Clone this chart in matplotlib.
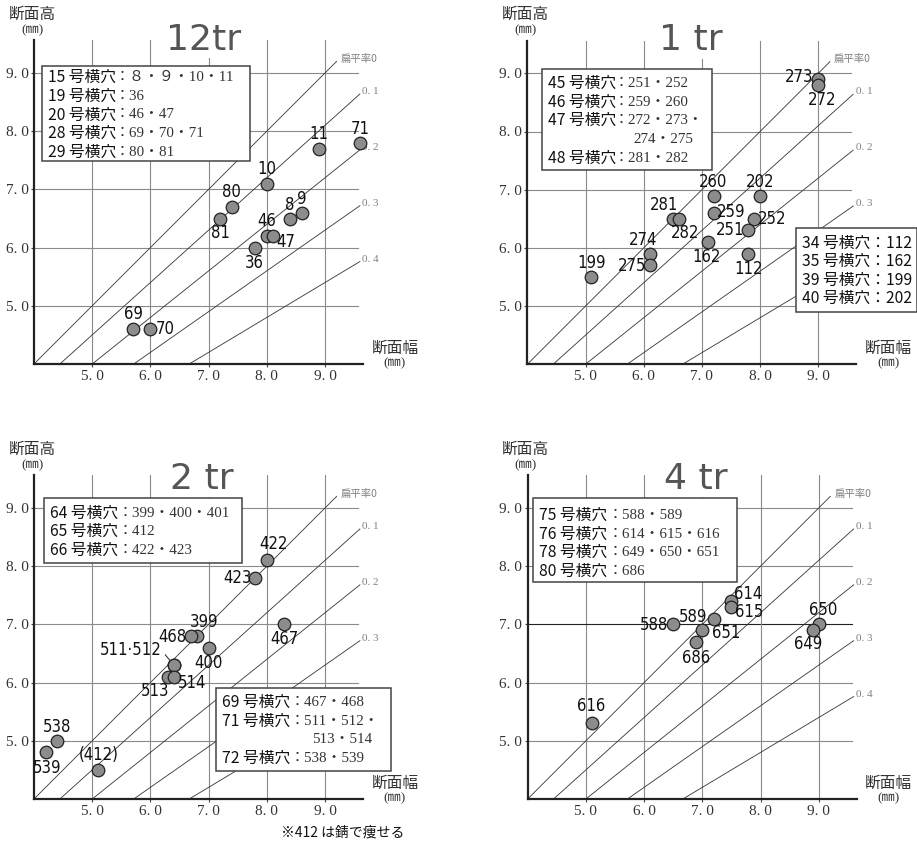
import matplotlib
matplotlib.use("Agg")
import matplotlib.pyplot as plt
from matplotlib.patches import Rectangle

W, H, DPI = 917, 843, 100

# ---------------- data ----------------
ticks = [5.0, 6.0, 7.0, 8.0, 9.0]
tick_labels = ["5. 0", "6. 0", "7. 0", "8. 0", "9. 0"]
rates = [0.0, 0.1, 0.2, 0.3, 0.4]
rate_labels = ["扁平率0", "0. 1", "0. 2", "0. 3", "0. 4"]

titles = ["12tr", "1 tr", "2 tr", "4 tr"]

p12_ids = ["8", "9", "10", "11", "36", "46", "47", "69", "70", "71", "80", "81"]
p12_w = [8.4, 8.6, 8.0, 8.9, 7.8, 8.0, 8.1, 5.7, 6.0, 9.6, 7.4, 7.2]
p12_h = [6.5, 6.6, 7.1, 7.7, 6.0, 6.2, 6.2, 4.6, 4.6, 7.8, 6.7, 6.5]

p1_ids = ["273", "272", "260", "202", "281", "282", "259", "252", "251", "162", "112", "274", "275", "199"]
p1_w = [9.0, 9.0, 7.2, 8.0, 6.5, 6.6, 7.2, 7.9, 7.8, 7.1, 7.8, 6.1, 6.1, 5.1]
p1_h = [8.9, 8.8, 6.9, 6.9, 6.5, 6.5, 6.6, 6.5, 6.3, 6.1, 5.9, 5.9, 5.7, 5.5]

p2_ids = ["422", "423", "399", "468", "400", "467", "511", "512", "513", "514", "538", "539", "412"]
p2_w = [8.0, 7.8, 6.8, 6.7, 7.0, 8.3, 6.4, 6.4, 6.3, 6.4, 4.4, 4.2, 5.1]
p2_h = [8.1, 7.8, 6.8, 6.8, 6.6, 7.0, 6.3, 6.3, 6.1, 6.1, 5.0, 4.8, 4.5]

p4_ids = ["614", "615", "589", "588", "651", "686", "650", "649", "616"]
p4_w = [7.5, 7.5, 7.2, 6.5, 7.0, 6.9, 9.0, 8.9, 5.1]
p4_h = [7.4, 7.3, 7.1, 7.0, 6.9, 6.7, 7.0, 6.9, 5.3]

leg12 = [("15 号横穴", "：８・９・10・11"), ("19 号横穴", "：36"), ("20 号横穴", "：46・47"),
         ("28 号横穴", "：69・70・71"), ("29 号横穴", "：80・81")]
leg1a = [("45 号横穴", "：251・252"), ("46 号横穴", "：259・260"), ("47 号横穴", "：272・273・"),
         ("", "274・275"), ("48 号横穴", "：281・282")]
leg1b = ["34 号横穴：112", "35 号横穴：162", "39 号横穴：199", "40 号横穴：202"]
leg2a = [("64 号横穴", "：399・400・401"), ("65 号横穴", "：412"), ("66 号横穴", "：422・423")]
leg2b = [("69 号横穴", "：467・468"), ("71 号横穴", "：511・512・"), ("", "513・514"),
         ("72 号横穴", "：538・539")]
leg4 = [("75 号横穴", "：588・589"), ("76 号横穴", "：614・615・616"),
        ("78 号横穴", "：649・650・651"), ("80 号横穴", "：686")]
footnote = "※412 は錆で痩せる"

# ---------------- layout (pixels) ----------------
U = 58.2
X0, X1, Y0, Y1 = 4.0, 9.65, 4.0, 9.56
origins = [(34, 364), (527.3, 364.3), (34, 799), (527.7, 799)]
title_off = [(170, -324), (164, -324), (168, -320), (168, -320)]

# label offsets (pixels, y up)
off12 = {"71": (0, 14), "11": (0, 15), "10": (0, 15), "80": (0, 15), "81": (0, -14), "8": (0, 14),
         "9": (0, 14), "46": (0, 15), "47": (13, -6), "36": (-1, -15), "69": (0, 15), "70": (15, 0)}
off1 = {"273": (-19, 2), "272": (4, -15), "260": (0, 14), "202": (0, 14), "281": (-9, 14),
        "282": (6, -14), "259": (18, 1), "252": (18, 0), "251": (-18, 0), "162": (-1, -15),
        "112": (0, -15), "274": (-6, 14), "275": (-17, -1), "199": (0, 14)}
off2 = {"422": (7, 16), "423": (-18, 0), "399": (7, 14), "468": (-19, -1), "400": (0, -15),
        "467": (0, -15), "513": (-13, -14), "514": (18, -6), "538": (0, 14), "539": (1, -16),
        "412": (1, 15)}
off4 = {"614": (17, 7), "615": (18, -5), "589": (-21, 2), "588": (-19, -1), "651": (24, -3),
        "686": (0, -16), "650": (4, 14), "649": (-5, -14), "616": (-1, 17)}

SERIF = ["Liberation Serif", "Noto Sans CJK JP"]
JP = ["Noto Sans CJK JP", "DejaVu Sans"]
NARROW = ["DejaVu Sans Condensed", "Liberation Sans Narrow", "DejaVu Sans"]

fig = plt.figure(figsize=(W / DPI, H / DPI), dpi=DPI)
fig.patch.set_facecolor("white")


def make_panel(i, ws, hs, ids, offs, special=None, dark_h=None, show_rates=5):
    ox, oy = origins[i]
    ax = fig.add_axes([ox / W, (H - oy) / H, (X1 - X0) * U / W, (Y1 - Y0) * U / H])
    ax.set_xlim(X0, X1)
    ax.set_ylim(Y0, Y1)
    ax.patch.set_alpha(0)
    for s in ["top", "right"]:
        ax.spines[s].set_visible(False)
    for s in ["left", "bottom"]:
        ax.spines[s].set_linewidth(1.6)
        ax.spines[s].set_color("#222222")
        ax.spines[s].set_zorder(5)
    ax.set_xticks(ticks)
    ax.set_yticks(ticks)
    ax.set_xticklabels(tick_labels, fontfamily=SERIF, fontsize=11, color="#333333")
    ax.set_yticklabels(tick_labels, fontfamily=SERIF, fontsize=11, color="#333333")
    ax.tick_params(length=2.5, width=0.8, pad=1.5, color="#444444")
    # grid
    for t in ticks:
        ax.plot([t, t], [Y0, Y1], color="#8a8a8a", lw=0.8, zorder=1)
        c = "#222222" if (dark_h is not None and t == dark_h) else "#8a8a8a"
        ax.plot([X0, 9.57], [t, t], color=c, lw=0.8, zorder=1)
    # flattening-rate lines
    for k, (r, lab) in enumerate(zip(rates, rate_labels)):
        if r == 0:
            xs = [4.0, 9.2]
            ax.text(9.27, 9.24, lab, fontfamily=JP, fontsize=7.5, color="#808080",
                    ha="left", va="center", clip_on=False)
        else:
            xs = [4.0 / (1 - r), 9.6]
            if k < show_rates:
                ax.text(9.64, 9.6 * (1 - r) + 0.04, lab, fontfamily=SERIF, fontsize=8,
                        color="#808080", ha="left", va="center", clip_on=False)
        ax.plot(xs, [x * (1 - r) for x in xs], color="#333333", lw=0.6, zorder=2)
    # points
    ax.scatter(ws, hs, s=82, facecolor="#8c8c8c", edgecolor="#222222", linewidth=0.9,
               zorder=4, clip_on=False)
    for pid, x, y in zip(ids, ws, hs):
        if pid not in offs:
            continue
        dx, dy = offs[pid]
        lab = "(412)" if pid == "412" else pid
        ax.annotate(lab, (x, y), xytext=(dx, dy), textcoords="offset pixels", ha="center",
                    va="center", fontfamily=NARROW, fontstretch="condensed", fontsize=12,
                    color="#111111", zorder=6, annotation_clip=False)
    if special:
        special(ax)
    return ax


def lab511(ax):
    x = p2_w[p2_ids.index("511")]
    y = p2_h[p2_ids.index("511")]
    ax.annotate("511·512", (x, y), xytext=(-43, 15), textcoords="offset pixels", ha="center",
                va="center", fontfamily=NARROW, fontstretch="condensed", fontsize=12,
                color="#111111", zorder=6,
                arrowprops=dict(arrowstyle="-", lw=0.7, color="#222222", shrinkA=1, shrinkB=4,
                                relpos=(1.0, 0.5)))


make_panel(0, p12_w, p12_h, p12_ids, off12)
make_panel(1, p1_w, p1_h, p1_ids, off1, show_rates=4)
make_panel(2, p2_w, p2_h, p2_ids, off2, special=lab511, show_rates=4)
make_panel(3, p4_w, p4_h, p4_ids, off4, dark_h=7.0)

# ---------------- overlay in pixel coordinates ----------------
ov = fig.add_axes([0, 0, 1, 1], zorder=10)
ov.set_xlim(0, W)
ov.set_ylim(H, 0)
ov.axis("off")

for i, (ox, oy) in enumerate(origins):
    tx, ty = title_off[i]
    ov.text(ox + tx, oy + ty, titles[i], fontfamily=["DejaVu Sans"], fontsize=26, color="#555555",
            ha="center", va="center", zorder=0.5,
            bbox=dict(facecolor="white", edgecolor="none", pad=1.0))
    ov.text(ox - 2, oy - 350, "断面高", fontfamily=JP, fontsize=11.3, color="#333333",
            ha="center", va="center")
    ov.text(ox - 2, oy - 334, "(㎜)", fontfamily=SERIF, fontsize=9.5, color="#333333",
            ha="center", va="center")
    ov.text(ox + 361, oy - 16, "断面幅", fontfamily=JP, fontsize=11.3, color="#333333",
            ha="center", va="center")
    ov.text(ox + 361, oy - 1, "(㎜)", fontfamily=SERIF, fontsize=9.5, color="#333333",
            ha="center", va="center")


def legend_box(x0, y0, x1, y1, rows, first, step, colon_dx, cont_dx):
    ov.add_patch(Rectangle((x0, y0), x1 - x0, y1 - y0, facecolor="white", edgecolor="#444444",
                           lw=1.1, zorder=1))
    for k, row in enumerate(rows):
        y = y0 + first + k * step
        if isinstance(row, str):
            ov.text(x0 + 6, y, row, fontfamily=JP, fontsize=11.3, color="#111111",
                    ha="left", va="center", zorder=2)
            continue
        pre, rest = row
        if pre:
            ov.text(x0 + 6, y, pre, fontfamily=JP, fontsize=11.3, color="#111111",
                    ha="left", va="center", zorder=2)
            ov.text(x0 + colon_dx, y, rest, fontfamily=SERIF, fontsize=10.8, color="#333333",
                    ha="left", va="center", zorder=2)
        else:
            ov.text(x0 + cont_dx, y, rest, fontfamily=SERIF, fontsize=10.8, color="#333333",
                    ha="left", va="center", zorder=2)


legend_box(41.7, 66, 250, 160.7, leg12, 11.7, 18.6, 73, 93)
legend_box(541.7, 69.3, 711.7, 170, leg1a, 14, 18.75, 72, 92)
legend_box(795.7, 228.3, 916.5, 312.3, leg1b, 15, 18.3, 73, 93)
legend_box(44.3, 498.3, 241.7, 563.3, leg2a, 15, 18.4, 73, 93)
legend_box(216, 687.7, 390.7, 771, leg2b, 15, 18.5, 74, 96)
legend_box(533.3, 498.3, 737.3, 582.3, leg4, 17, 18.7, 74, 93)

ov.text(343, 833, footnote, fontfamily=JP, fontsize=10, color="#111111", ha="center", va="center")

fig.savefig("out.png", dpi=DPI, facecolor="white")
